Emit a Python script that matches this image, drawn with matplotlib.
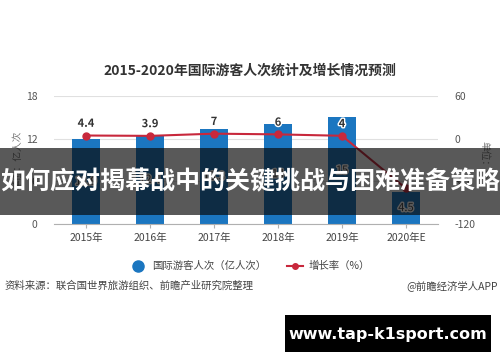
import matplotlib
matplotlib.use('Agg')
import matplotlib.pyplot as plt
import matplotlib.patheffects as pe
from matplotlib.patches import Rectangle

plt.rcParams['font.family'] = ['Noto Sans CJK SC', 'DejaVu Sans']
plt.rcParams['axes.unicode_minus'] = False

years = ['2015年', '2016年', '2017年', '2018年', '2019年', '2020年E']
visitors = [11.9, 12.4, 13.3, 14, 15, 4.5]
growth = [4.4, 3.9, 7, 6, 4, -70]
bar_labels = ['11.9', '12.4', '13.3', '14', '15', '4.5']
growth_labels = ['4.4', '3.9', '7', '6', '4', '-70']

fig = plt.figure(figsize=(5, 3.62), dpi=100)
ax = fig.add_axes([0.108, 0.381, 0.768, 0.354])
ax2 = ax.twinx()

x = list(range(len(years)))
bars = ax.bar(x, visitors, width=0.45, color='#1b76c0', zorder=2)
ax.set_xlim(-0.5, 5.5)
ax.set_ylim(0, 18)
ax.set_yticks([0, 6, 12, 18])
ax.set_xticks(x)
ax.set_xticklabels(years)
ax.grid(axis='y', color='#e0e0e0', lw=0.8, zorder=0)
for s in ['top', 'right', 'left']:
    ax.spines[s].set_visible(False)
ax.spines['bottom'].set_color('#b0b0b0')
ax.tick_params(axis='y', length=0, labelsize=7.5, labelcolor='#555555', pad=12)
ax.tick_params(axis='x', length=3, color='#b0b0b0', labelsize=7.5, labelcolor='#444444', pad=3)
ax.set_ylabel('单位：亿人次', fontsize=7, color='#777777', labelpad=2)

stroke = [pe.withStroke(linewidth=2, foreground='white')]
for i, v in enumerate(visitors):
    ax.text(i, v / 2, bar_labels[i], ha='center', va='center', fontsize=8,
            color='#444444', path_effects=stroke, zorder=5)

ax2.plot(x, growth, color='#c8283c', lw=1.5, marker='o', markersize=5, zorder=4)
ax2.set_ylim(-120, 60)
ax2.set_yticks([-120, -60, 0, 60])
for s in ['top', 'right', 'left', 'bottom']:
    ax2.spines[s].set_visible(False)
ax2.tick_params(axis='y', length=0, labelsize=7.5, labelcolor='#555555', pad=12)
ax2.set_ylabel('单位：%', fontsize=7, color='#777777', rotation=-90, labelpad=10)
for i, g in enumerate(growth[:5]):
    ax2.text(i, g + 8, growth_labels[i], ha='center', va='bottom', fontsize=8,
             fontweight='bold', color='#333333', path_effects=stroke, zorder=5)

fig.text(0.5, 0.805, '2015-2020年国际游客人次统计及增长情况预测', ha='center', va='center',
         fontsize=10, fontweight='bold', color='#333333')

h1 = plt.Line2D([], [], marker='o', color='none', markerfacecolor='#1b76c0',
                markeredgecolor='#1b76c0', markersize=8)
h2 = plt.Line2D([], [], marker='o', color='#c8283c', lw=1.5, markersize=4)
fig.legend([h1, h2], ['国际游客人次（亿人次）', '增长率（%）'], loc='center',
           bbox_to_anchor=(0.5, 0.265), ncol=2, frameon=False, fontsize=7.5,
           handlelength=1.6, columnspacing=2.0, handletextpad=0.5,
           labelcolor='#444444')

fig.text(0.01, 0.21, '资料来源：联合国世界旅游组织、前瞻产业研究院整理', ha='left', va='center',
         fontsize=7.5, color='#444444')
fig.text(0.995, 0.21, '@前瞻经济学人APP', ha='right', va='center', fontsize=7.5, color='#444444')

# overlay banner
fig.patches.append(Rectangle((0, 1 - 215 / 362), 1, 67 / 362, transform=fig.transFigure,
                             facecolor='#080808', alpha=0.67, zorder=10))
fig.text(0.5, 1 - 182 / 362, '如何应对揭幕战中的关键挑战与困难准备策略', ha='center', va='center',
         fontsize=18, fontweight='bold', color='white', zorder=11)

fig.patches.append(Rectangle((285 / 500, 1 - 352 / 362), 206 / 500, 37 / 362,
                             transform=fig.transFigure, facecolor='black', zorder=10))
fig.text(388 / 500, 1 - 334 / 362, 'www.tap-k1sport.com', ha='center', va='center',
         fontsize=11.5, fontweight='bold', color='white', family='DejaVu Sans', zorder=11)

fig.savefig('out.png', dpi=100)
